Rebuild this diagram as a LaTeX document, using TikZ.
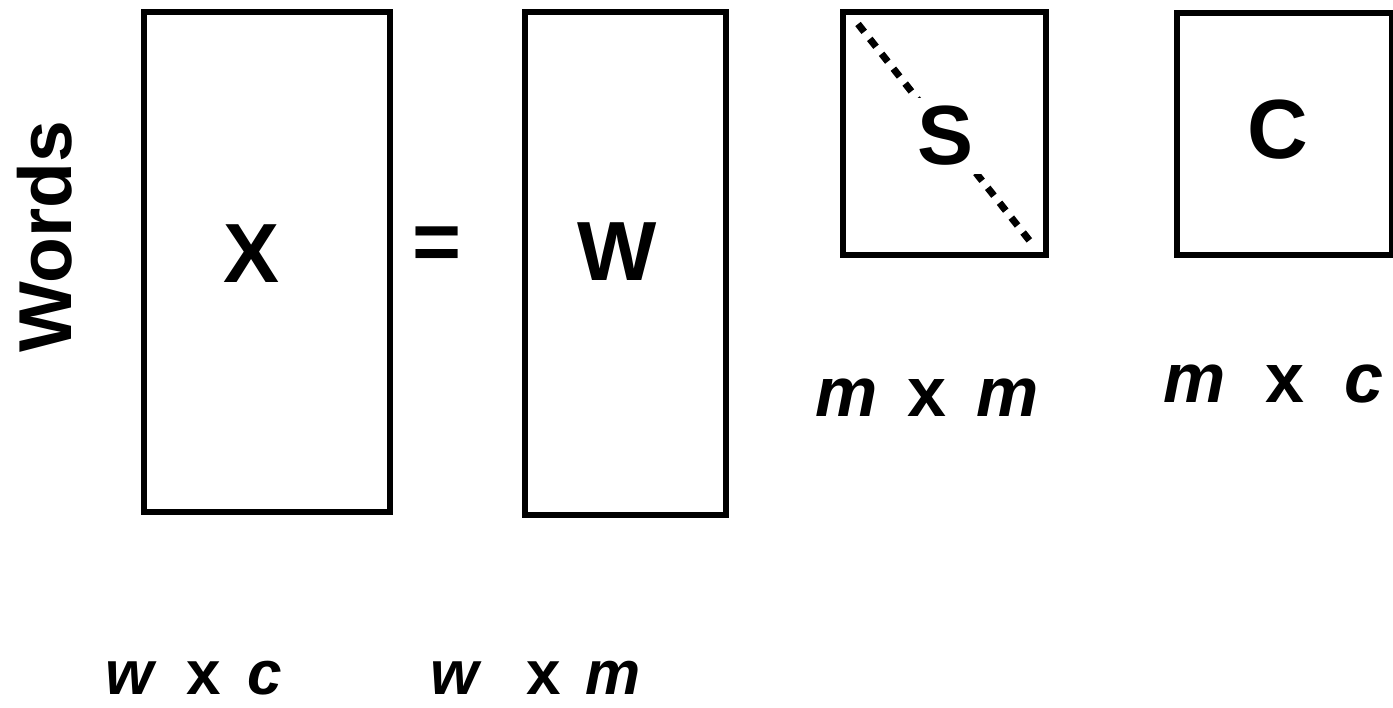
\documentclass[tikz,border=0pt]{standalone}
\usepackage{fontspec}
\setmainfont{Liberation Sans}
\usetikzlibrary{positioning}

\begin{document}
\begin{tikzpicture}[x=1pt, y=-1pt,
    every node/.style={inner sep=0pt},
    mat/.style={draw, line width=6pt, rectangle},
    big/.style={font=\fontsize{84}{84}\selectfont\bfseries},
    dim/.style={font=\fontsize{70}{70}\selectfont\bfseries, anchor=west},
    smalldim/.style={font=\fontsize{62}{62}\selectfont\bfseries, anchor=west},
    diag/.style={line width=7pt, dash pattern=on 10pt off 9pt}
]
\useasboundingbox (0,0) rectangle (1393,708);

% matrices
\node[mat, minimum width=246pt, minimum height=500pt] (xmat) at (267,262)   {};
\node[mat, minimum width=201pt, minimum height=503pt] (wmat) at (625.5,263.5) {};
\node[mat, minimum width=203pt, minimum height=243pt] (smat) at (944.5,133.5) {};
\node[mat, minimum width=215pt, minimum height=242pt] (cmat) at (1284.5,134) {};

% diagonal of S
\coordinate (d1) at (858,24);
\coordinate (d2) at (1033,245);
\draw[diag] (d1) -- (d2);

% letters
\node[big] (xl) at (252,254) {X};
\node[big] (eq) at (437,249) {=};
\node[big] (wl) at (617,252) {W};
\node[big, fill=white, inner sep=8pt] (sl) at (946,136) {S};
\node[big] (cl) at (1278,130) {C};

\node[font=\fontsize{75}{75}\selectfont\bfseries, rotate=90] (words) at (45,237) {Words};

% dimensions
\node[dim] (sdim) at (815,398) {\textit{m}\hspace{30pt}x\hspace{30pt}\textit{m}};
\node[dim] (cdim) at (1163,384) {\textit{m}\hspace{40pt}x\hspace{40pt}\textit{c}};
\node[smalldim] (xdim) at (105,678) {\textit{w}\hspace{30pt}x\hspace{26pt}\textit{c}};
\node[smalldim] (wdim) at (430,678) {\textit{w}\hspace{45pt}x\hspace{24pt}\textit{m}};
\end{tikzpicture}
\end{document}
